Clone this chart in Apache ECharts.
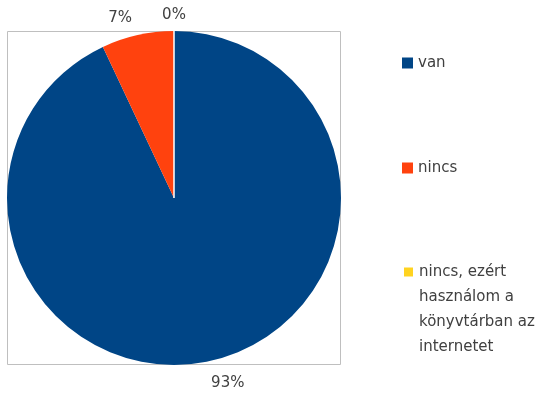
<!DOCTYPE html>
<html><head><meta charset="utf-8">
<script src="https://cdn.jsdelivr.net/npm/echarts@6/dist/echarts.min.js"></script>
<style>html,body{margin:0;padding:0;background:#fff}#c{width:542px;height:394px}</style>
</head><body><div id="c"></div>
<script>
const categories = ['van', 'nincs', 'nincs, ezért\nhasználom a\nkönyvtárban az\ninternetet'];
const values = [93, 7, 0];
const colors = ['#004586', '#ff420e', '#ffd320'];

const FONT = 'DejaVu Sans';
const TXT = '#404040';
const chart = echarts.init(document.getElementById('c'), null, {renderer: 'canvas'});

const legendTops = [50.5, 155.5, 184.5];
const legends = categories.map((c, i) => ({
  orient: 'vertical', left: 402, top: legendTops[i], padding: 0,
  data: [c], icon: 'rect', itemWidth: 11, itemHeight: 11, itemGap: 0,
  selectedMode: false,
  // leading blank lines put the first text line level with the marker
  formatter: name => (name.indexOf('\n') >= 0 ? '\n\n\n' : '') + name,
  textStyle: {fontFamily: FONT, fontSize: 15, color: TXT, lineHeight: 25}
}));

chart.setOption({
  animation: false,
  color: colors,
  graphic: [{
    type: 'rect', z: -1, silent: true,
    shape: {x: 7.5, y: 31.5, width: 333, height: 333},
    style: {fill: 'none', stroke: '#bfbfbf', lineWidth: 1}
  }],
  legend: legends,
  series: [{
    type: 'pie',
    center: [174, 198],
    radius: 167,
    startAngle: 90,
    clockwise: true,
    avoidLabelOverlap: false,
    label: {
      show: true, position: 'outside', fontFamily: FONT, fontSize: 15, color: TXT,
      distanceToLabelLine: 5,
      formatter: p => Math.round(p.percent) + '%'
    },
    labelLine: {show: false, length: 20, length2: 8},
    labelLayout: {align: 'center', verticalAlign: 'middle', dy: 3},
    data: categories.map((c, i) => {
      const d = {name: c, value: values[i]};
      if (values[i] === 0) {
        d.itemStyle = {borderColor: '#ffffff', borderWidth: 1};
        d.labelLine = {length: 19, length2: 0};
        d.label = {distanceToLabelLine: 0};
      }
      return d;
    })
  }]
});
</script></body></html>
